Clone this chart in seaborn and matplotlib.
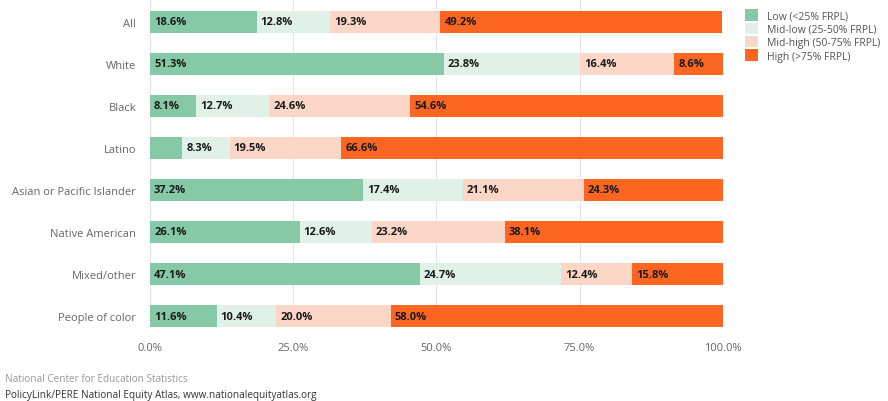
import matplotlib
matplotlib.use("Agg")
import matplotlib.pyplot as plt
import numpy as np
import pandas as pd
import seaborn as sns
from matplotlib.patches import Patch

# ---------------------------------------------------------------------------
# Data (share of students by school poverty level, % FRPL)
# ---------------------------------------------------------------------------
groups = ["All", "White", "Black", "Latino", "Asian or Pacific Islander",
          "Native American", "Mixed/other", "People of color"]
low      = [18.6, 51.3,  8.1,  5.6, 37.2, 26.1, 47.1, 11.6]
mid_low  = [12.8, 23.8, 12.7,  8.3, 17.4, 12.6, 24.7, 10.4]
mid_high = [19.3, 16.4, 24.6, 19.5, 21.1, 23.2, 12.4, 20.0]
high     = [49.2,  8.6, 54.6, 66.6, 24.3, 38.1, 15.8, 58.0]
series_names = ["Low (<25% FRPL)", "Mid-low (25-50% FRPL)",
                "Mid-high (50-75% FRPL)", "High (>75% FRPL)"]
colors = ["#86c9a7", "#e0f1e7", "#fcd6c7", "#fc6622"]

df = pd.DataFrame({"group": groups, "low": low, "mid_low": mid_low,
                   "mid_high": mid_high, "high": high})
cols = ["low", "mid_low", "mid_high", "high"]
cum = df[cols].cumsum(axis=1)

FONT = ["Open Sans", "DejaVu Sans"]

sns.set_theme(style="white")
plt.rcParams["font.family"] = FONT

fig = plt.figure(figsize=(8.88, 4.02), dpi=100)
ax = fig.add_axes([0.169, 0.184, 0.645, 0.816])

# stacked bars: draw cumulative totals, widest first
for col, color in reversed(list(zip(cols, colors))):
    sns.barplot(x=cum[col], y=df["group"], ax=ax, color=color,
                width=0.52, orient="h", saturation=1, linewidth=0)

# segment labels
for i, row in df.iterrows():
    start = 0.0
    for col in cols:
        v = row[col]
        if v >= 6:
            ax.text(start + 0.7, i, f"{v:.1f}%", va="center", ha="left",
                    fontsize=8, fontweight="bold", color="#1a1a1a")
        start += v

ax.set_xlim(0, 100)
ax.set_ylim(7.26, -0.54)
ax.set_xticks([0, 25, 50, 75, 100])
ax.set_xticklabels([f"{t:.1f}%" for t in [0, 25, 50, 75, 100]])
ax.xaxis.grid(True, color="#e4e4e4", linewidth=0.8)
ax.set_axisbelow(True)
ax.set_xlabel("")
ax.set_ylabel("")
ax.tick_params(axis="both", length=0, labelsize=8, labelcolor="#666666")
ax.tick_params(axis="x", pad=11)
ax.tick_params(axis="y", pad=10)
sns.despine(ax=ax, left=True, bottom=True)

handles = [Patch(facecolor=c, edgecolor="none") for c in colors]
fig.legend(handles, series_names, loc="upper left", bbox_to_anchor=(0.828, 0.998),
           frameon=False, fontsize=7.5, handlelength=1.3, handleheight=1.3,
           handletextpad=0.8, labelspacing=0.12, labelcolor="#555555")

fig.text(0.006, 0.05, "National Center for Education Statistics",
         fontsize=7.2, color="#999999")
fig.text(0.006, 0.01, "PolicyLink/PERE National Equity Atlas, www.nationalequityatlas.org",
         fontsize=7.2, color="#333333")

fig.savefig("out.png", dpi=100)
